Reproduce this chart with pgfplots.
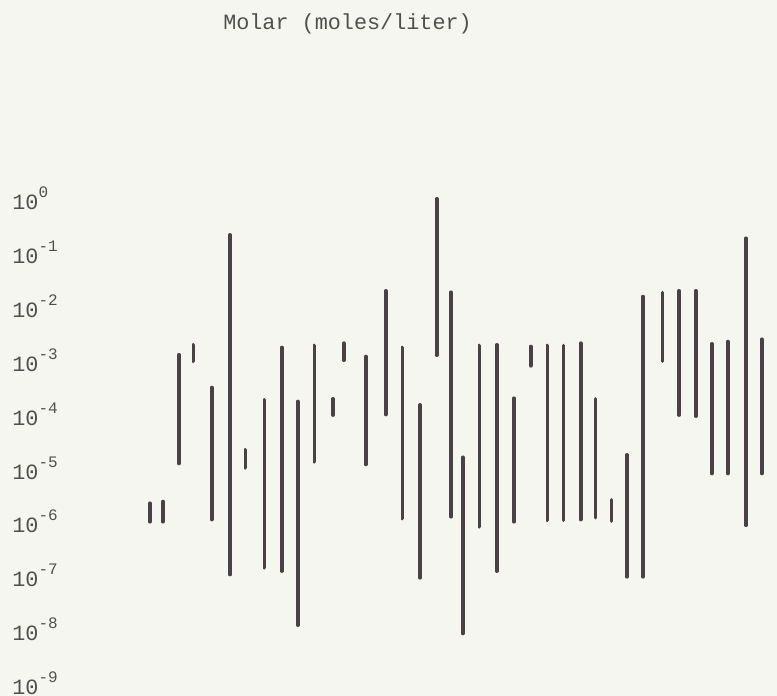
\documentclass[border=0pt]{standalone}
\usepackage{pgfplots}
\pgfplotsset{compat=1.18}
\usepackage{fontspec}
\setmainfont{Liberation Mono}
\definecolor{bg}{RGB}{246,246,241}
\definecolor{barc}{RGB}{72,66,70}
\definecolor{txt}{RGB}{80,80,80}
\newcommand\sx[1]{10\raisebox{6pt}{\fontsize{8}{8}\selectfont #1}}
\begin{document}
\begin{tikzpicture}
\fill[bg] (0,0) rectangle (388.5pt,-348pt);
\begin{axis}[
  at={(6pt,-357.525pt)}, anchor=south west,
  scale only axis, width=382.5pt, height=282.975pt,
  xmin=12, xmax=777,
  ymode=log, ymin=3.16228e-10, ymax=10,
  axis line style={draw=none}, tick style={draw=none},
  xtick=\empty,
  ytick={1,1e-1,1e-2,1e-3,1e-4,1e-5,1e-6,1e-7,1e-8,1e-9},
  yticklabels={\sx{0},\sx{-1},\sx{-2},\sx{-3},\sx{-4},\sx{-5},\sx{-6},\sx{-7},\sx{-8},\sx{-9}},
  yticklabel style={anchor=base west, inner sep=0pt, yshift=-3.25pt, font=\fontsize{10.9}{13}\selectfont, text=txt},
  every axis title shift=0pt,
  title={Molar (moles/liter)},
  title style={at={(0.4386,1.2211)}, anchor=center, inner sep=0pt, font=\fontsize{10.9}{13}\selectfont, text=txt},
  unbounded coords=jump,
]
\addplot[barc, line width=1.8pt, line cap=round] coordinates {
(150,2.69e-6) (150,1.22e-6) (150,nan)
(162.7,2.90e-6) (162.7,1.22e-6) (162.7,nan)
(179,1.53e-3) (179,1.47e-5) (179,nan)
(193.3,2.34e-3) (193.3,1.16e-3) (193.3,nan)
(211.7,3.78e-4) (211.7,1.34e-6) (211.7,nan)
(230,0.257) (230,1.28e-7) (230,nan)
(245.3,2.64e-5) (245.3,1.22e-5) (245.3,nan)
(264.3,2.23e-4) (264.3,1.71e-7) (264.3,nan)
(281.7,2.09e-3) (281.7,1.48e-7) (281.7,nan)
(297.7,2.08e-4) (297.7,1.47e-8) (297.7,nan)
(314.3,2.27e-3) (314.3,1.58e-5) (314.3,nan)
(333,2.33e-4) (333,1.16e-4) (333,nan)
(343.7,2.51e-3) (343.7,1.21e-3) (343.7,nan)
(365.7,1.42e-3) (365.7,1.41e-5) (365.7,nan)
(385.7,2.35e-2) (385.7,1.19e-4) (385.7,nan)
(402.3,2.09e-3) (402.3,1.40e-6) (402.3,nan)
(420,1.80e-4) (420,1.11e-7) (420,nan)
(436.7,1.20) (436.7,1.50e-3) (436.7,nan)
(451,2.21e-2) (451,1.51e-6) (451,nan)
(462.7,1.92e-5) (462.7,1.03e-8) (462.7,nan)
(479.3,2.27e-3) (479.3,9.84e-7) (479.3,nan)
(496.7,2.34e-3) (496.7,1.48e-7) (496.7,nan)
(514,2.39e-4) (514,1.22e-6) (514,nan)
(530.7,2.18e-3) (530.7,9.54e-4) (530.7,nan)
(547.3,2.27e-3) (547.3,1.30e-6) (547.3,nan)
(563.3,2.27e-3) (563.3,1.30e-6) (563.3,nan)
(580.7,2.51e-3) (580.7,1.34e-6) (580.7,nan)
(595.3,2.33e-4) (595.3,1.45e-6) (595.3,nan)
(611.3,3.12e-6) (611.3,1.25e-6) (611.3,nan)
(626.7,2.13e-5) (626.7,1.16e-7) (626.7,nan)
(642.8,1.84e-2) (642.8,1.16e-7) (642.8,nan)
(662.3,2.19e-2) (662.3,1.16e-3) (662.3,nan)
(679,2.35e-2) (679,1.16e-4) (679,nan)
(695.7,2.35e-2) (695.7,1.11e-4) (695.7,nan)
(711.7,2.44e-3) (711.7,9.58e-6) (711.7,nan)
(727.7,2.69e-3) (727.7,9.58e-6) (727.7,nan)
(746,0.222) (746,1.05e-6) (746,nan)
(761.7,2.97e-3) (761.7,9.58e-6)
};
\end{axis}
\pgfresetboundingbox
\path (0,0) rectangle (388.5pt,-348pt);
\end{tikzpicture}
\end{document}
